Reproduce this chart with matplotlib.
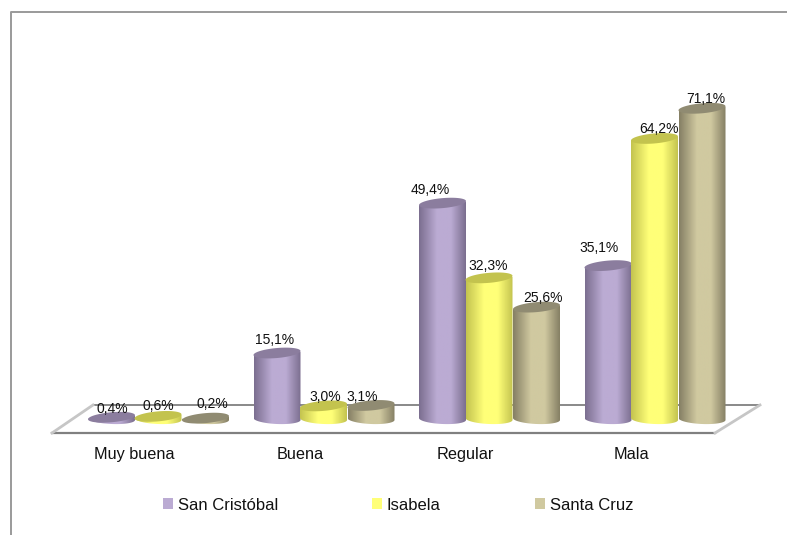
import numpy as np
import matplotlib
matplotlib.use("Agg")
import matplotlib.pyplot as plt
from matplotlib.colors import LinearSegmentedColormap
from matplotlib.patches import Polygon, Patch

categories = ["Muy buena", "Buena", "Regular", "Mala"]
series_names = ["San Cristóbal", "Isabela", "Santa Cruz"]
san_cristobal = [0.4, 15.1, 49.4, 35.1]
isabela = [0.6, 3.0, 32.3, 64.2]
santa_cruz = [0.2, 3.1, 25.6, 71.1]
series_values = [san_cristobal, isabela, santa_cruz]

light = ["#BBABD3", "#FFFF78", "#D0C9A0"]
dark = ["#7C6F90", "#C4C450", "#868065"]
topc = ["#8B7D9E", "#C3C34E", "#908B72"]

# label nudges in pixels (series by category), as placed in the original
label_dx = [[1, -2, -12, -9], [0, 2, -1, 5], [7, -9, 7, 4]]
label_dy = [[9, 14, 14, 18], [11, 9, 12, 10], [15, 9, 10, 10]]

W, H = 787, 535
plt.rcParams["font.family"] = ["Liberation Sans", "DejaVu Sans"]
fig = plt.figure(figsize=(W / 100, H / 100), dpi=100, facecolor="white")
ax = fig.add_axes([0, 0, 1, 1])

x0, xstep = 158.0, 165.5
base, ppu = 419.0, 4.37
ax.set_xlim((0 - x0) / xstep, (W - x0) / xstep)
ax.set_ylim((base - H) / ppu, base / ppu)
ax.axis("off")

def fx(p):
    return (p - x0) / xstep
def fy(p):
    return (base - p) / ppu

# outer frame: left and top edges only
frame = "#9A9A9A"
ax.plot([fx(11), fx(11), fx(787)], [fy(535), fy(12), fy(12)],
        color=frame, lw=1.4, zorder=1, clip_on=False)

# floor
ax.plot([fx(93), fx(760)], [fy(405), fy(405)], color="#808080", lw=1.3, zorder=1)
ax.plot([fx(52), fx(715)], [fy(433), fy(433)], color="#808080", lw=1.6, zorder=1)
ax.plot([fx(52), fx(93)], [fy(433), fy(405)], color="#C6C6C6", lw=2.0, zorder=1)
ax.plot([fx(715), fx(760)], [fy(433), fy(405)], color="#C6C6C6", lw=2.0, zorder=1)

bar_w = 47.0 / xstep
half_h = 5.0 / ppu
skew = 2.0 / ppu
t = np.linspace(0, 2 * np.pi, 80)

def ellipse(cx, cy):
    return np.column_stack([cx + bar_w / 2 * np.cos(t),
                            cy + half_h * np.sin(t) + skew * np.cos(t)])

z = 3
for i, cat in enumerate(categories):
    for j, vals in enumerate(series_values):
        v = vals[i]
        cx = i + (j - 1) * (46.5 / xstep) + (1.0 / xstep if j == 2 else 0)
        cmap = LinearSegmentedColormap.from_list(
            f"c{i}{j}", [(0, dark[j]), (0.38, light[j]), (0.68, light[j]), (1, dark[j])])
        grad = np.linspace(0, 1, 64).reshape(1, -1)
        left, right = cx - bar_w / 2, cx + bar_w / 2
        im = ax.imshow(grad, cmap=cmap, extent=[left, right, -half_h * 1.3, v],
                       aspect="auto", zorder=z, interpolation="bilinear")
        tb = np.linspace(np.pi, 2 * np.pi, 40)
        bottom = np.column_stack([cx + bar_w / 2 * np.cos(tb),
                                  half_h * np.sin(tb) - skew * 0.5 * np.cos(tb)])
        poly = np.vstack([[left, v - skew], bottom, [right, v + skew]])
        im.set_clip_path(Polygon(poly, closed=True, transform=ax.transData))
        ax.add_patch(Polygon(ellipse(cx, v), closed=True, fc=topc[j], ec="none", zorder=z + 0.5))
        ax.text(cx + label_dx[j][i] / xstep, v + (label_dy[j][i] - 4.5) / ppu,
                f"{v:.1f}%".replace(".", ","), ha="center", va="baseline",
                fontsize=10, color="#111111", zorder=30)
        z += 1

ax.set_xlim((0 - x0) / xstep, (W - x0) / xstep)
ax.set_ylim((base - H) / ppu, base / ppu)

for i, cat in enumerate(categories):
    ax.text(i - 23.5 / xstep, fy(459), cat, ha="center", va="baseline",
            fontsize=11.7, color="#111111")

handles = [Patch(fc=light[j], ec="none") for j in range(3)]
ax.legend(handles, series_names, ncol=3, frameon=False, loc="center",
          bbox_to_anchor=(398 / W, 1 - 505 / H), fontsize=12,
          handlelength=0.6, handleheight=0.6, handletextpad=0.3,
          columnspacing=5.65, labelcolor="#111111")

fig.savefig("out.png", dpi=100)
